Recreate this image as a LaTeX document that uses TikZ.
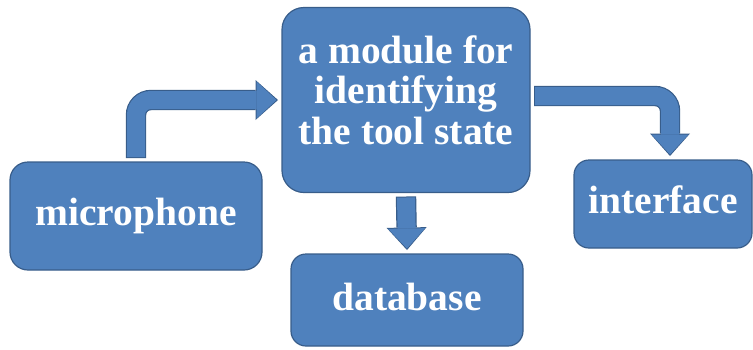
\documentclass[tikz,border=0pt]{standalone}
\usepackage{fontspec}
\setmainfont{Liberation Serif}
\usetikzlibrary{arrows.meta,positioning,calc}
\definecolor{boxfill}{RGB}{79,129,189}
\definecolor{boxedge}{RGB}{56,93,138}
\tikzset{
	block/.style={rectangle, rounded corners=16pt, fill=boxfill, draw=boxedge, line width=1.2pt,
		text=white, font=\fontsize{39.5}{40.5}\selectfont\bfseries, align=center, outer sep=4pt},
	blockarrow/.style={draw=boxfill, line width=18pt, rounded corners=15pt,
		shorten <=1pt, shorten >=1.5pt,
		-{Triangle[width=37pt,length=20pt,line width=0pt]},
		preaction={draw=boxedge, line width=20.4pt, shorten <=0pt, shorten >=0pt,
			-{Triangle[width=40pt,length=22.5pt,line width=0pt]}}}
}
\begin{document}
\begin{tikzpicture}[x=1pt,y=-1pt]
	\useasboundingbox (0,0) rectangle (753,349);
	
	% boxes
	\node[block, minimum width=248pt, minimum height=185pt, rounded corners=22pt, text depth=20pt] (module) at (406,100) {a module for\\identifying\\the tool state};
	\node[block, minimum width=252pt, minimum height=108pt, rounded corners=18pt] (mic) at (136,216) {microphone};
	\node[block, minimum width=178pt, minimum height=88pt, rounded corners=15pt, text depth=8pt] (iface) at (663,204) {interface};
	\node[block, minimum width=232pt, minimum height=92pt, rounded corners=15pt, text depth=6pt] (db) at (407,300) {database};
	
	% arrows
	\draw[blockarrow] (mic.north) |- (module.west);
	\draw[blockarrow] ([yshift=4pt]module.east) -| ([xshift=7pt]iface.north);
	\draw[blockarrow] (module.south) -- (db.north);
\end{tikzpicture}
\end{document}
